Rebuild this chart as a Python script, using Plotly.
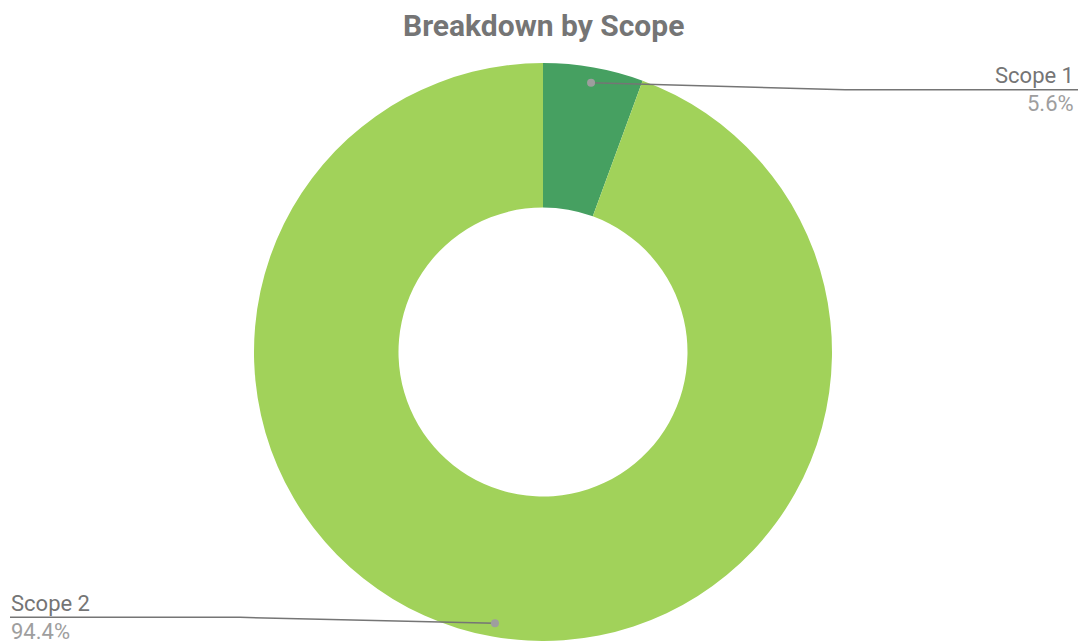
import numpy as np
import plotly.graph_objects as go

# ---- data ----
categories = ["Scope 1", "Scope 2"]
values = [5.6, 94.4]
colors = ["#46A061", "#A1D25A"]
title_text = "Breakdown by Scope"

W, H = 1080, 641
cx, cy, R = 543, 353, 289  # pixel center / radius of donut

def px(x):
    return x / W

def py(y):
    return 1 - y / H

fig = go.Figure()
fig.add_trace(go.Pie(
    labels=categories,
    values=values,
    hole=0.5,
    sort=False,
    direction="clockwise",
    rotation=0,
    marker=dict(colors=colors, line=dict(width=0)),
    textinfo="none",
    hoverinfo="label+percent",
    showlegend=False,
    domain=dict(x=[px(cx - 300), px(cx + 300)], y=[0, 2 * R / H]),
))

# leader lines / labels computed from slice mid-angles
total = sum(values)
cum = np.cumsum([0] + values[:-1])
mids = [(c + v / 2) / total * 2 * np.pi for c, v in zip(cum, values)]
shapes = []
annotations = []
line_col = "#757575"
for i, (cat, val, ang) in enumerate(zip(categories, values, mids)):
    dx = 0.95 * R * np.sin(ang)
    dy = -0.95 * R * np.cos(ang)
    x0, y0 = cx + dx, cy + dy
    pct = f"{val / total * 100:.1f}%"
    if dx >= 0:
        ex, ey, endx = 845, y0 + 7, 1078
        anchor = "right"
        tx = 1076
    else:
        ex, ey, endx = 240, y0 - 6, 10
        anchor = "left"
        tx = 9
    shapes.append(dict(type="path", xref="paper", yref="paper",
                       path=f"M {px(x0)},{py(y0)} L {px(ex)},{py(ey)} L {px(endx)},{py(ey)}",
                       line=dict(color=line_col, width=1.5)))
    shapes.append(dict(type="circle", xref="paper", yref="paper",
                       x0=px(x0 - 4), x1=px(x0 + 4), y0=py(y0 + 4), y1=py(y0 - 4),
                       fillcolor="#9E9E9E", line=dict(width=0)))
    annotations.append(dict(x=px(tx), y=py(ey - 14), xref="paper", yref="paper",
                            text=cat, showarrow=False, xanchor=anchor, yanchor="middle",
                            font=dict(family="Roboto", size=22, color="#757575")))
    annotations.append(dict(x=px(tx), y=py(ey + 14), xref="paper", yref="paper",
                            text=pct, showarrow=False, xanchor=anchor, yanchor="middle",
                            font=dict(family="Roboto", size=22, color="#9E9E9E")))

annotations.append(dict(x=px(543), y=py(25), xref="paper", yref="paper",
                        text=f"<b>{title_text}</b>", showarrow=False,
                        xanchor="center", yanchor="middle",
                        font=dict(family="Roboto", size=30, color="#757575")))

fig.update_layout(
    width=W, height=H,
    margin=dict(l=0, r=0, t=0, b=0),
    paper_bgcolor="white", plot_bgcolor="white",
    shapes=shapes, annotations=annotations,
)

fig.write_html("out.html", config={"displayModeBar": False},
               post_script="document.body.style.margin='0';document.body.style.overflow='hidden';")
